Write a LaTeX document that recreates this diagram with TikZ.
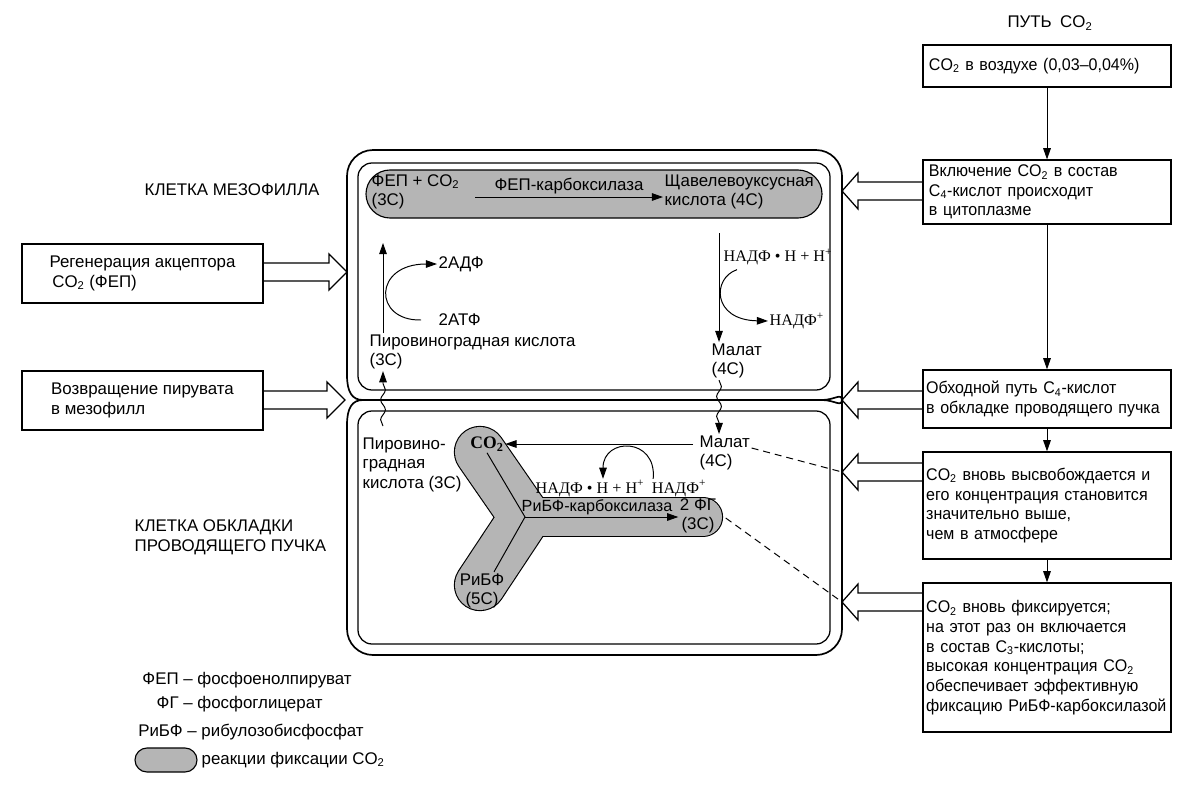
\documentclass[tikz,border=0pt]{standalone}
\usepackage{fontspec}
\setmainfont{Liberation Sans}
\newfontfamily\nadpfont{Liberation Serif}
\newfontfamily\boxfont[FakeStretch=0.95]{Liberation Sans}
\usetikzlibrary{arrows.meta, positioning, calc, decorations.pathmorphing}
\definecolor{fixgray}{HTML}{B5B5B5}
\newcommand{\cotwo}{CO\textsubscript{2}}
\newcommand{\openarrow}[3]{%
  \draw[wallarrow] ($(#1 |- #2)+(0,-9)$) -- ($(#2)+(#3,-9)$) --
    ($(#2)+(#3,-18)$) -- (#2) -- ($(#2)+(#3,18)$) -- ($(#2)+(#3,9)$) --
    ($(#1 |- #2)+(0,9)$);}

\begin{document}
\begin{tikzpicture}[x=0.025cm, y=-0.025cm,
      >={Triangle[length=2.8mm, width=1.9mm]},
      every node/.style={font=\fontsize{12}{14}\selectfont},
      pathbox/.style={draw, line width=0.9pt, text width=6.04cm,
                      inner xsep=0.08cm, align=left,
                      font=\boxfont\fontsize{12}{14}\selectfont},
      sidebox/.style={draw, line width=0.9pt, minimum width=6.025cm,
                      minimum height=1.475cm, align=left},
      lbl/.style={inner sep=1pt, align=left},
      nadp/.style={inner sep=1pt, font=\nadpfont\fontsize{11.5}{13}\selectfont},
      flow/.style={->, line width=0.7pt},
      wavy/.style={->, line width=0.7pt, decorate,
                   decoration={snake, amplitude=0.06cm, segment length=0.5cm,
                               post length=2.5mm}},
      wall/.style={line width=1.2pt},
      membrane/.style={line width=0.9pt, rounded corners=0.35cm},
      wallarrow/.style={line width=0.9pt, line join=miter},
      fixreact/.style={draw, line width=0.8pt, fill=fixgray},
      armedge/.style={line width=#1, line cap=round, line join=round},
      hint/.style={line width=0.7pt, dash pattern=on 5pt off 3.5pt}]
    \useasboundingbox (0,0) rectangle (1200,788);

    % path of CO2 (right column)
    \node[anchor=base] (title) at (1050,28) {ПУТЬ\enspace\cotwo};
    \node[pathbox, minimum height=1.05cm] (air) at (1047,66)
      {\,\cotwo{} в воздухе (0,03–0,04\%)};
    \node[pathbox, minimum height=1.45cm] (incl) at (1047,192)
      {\,Включение \cotwo{} в состав\\\,C\textsubscript{4}-кислот происходит\\\,в цитоплазме};
    \node[pathbox, minimum height=1.45cm] (bypass) at (1047,399)
      {Обходной путь C\textsubscript{4}-кислот\\в обкладке проводящего пучка};
    \node[pathbox, minimum height=2.675cm] (release) at (1047,505.5)
      {\cotwo{} вновь высвобождается и\\его концентрация становится\\значительно выше,\\чем в атмосфере};
    \node[pathbox, minimum height=3.725cm] (refix) at (1047,657.5)
      {\cotwo{} вновь фиксируется;\\на этот раз он включается\\в состав C\textsubscript{3}-кислоты;\\высокая концентрация \cotwo\\обеспечивает эффективную\\\mbox{фиксацию РиБФ-карбоксилазой}};
    \draw[flow] (air) -- (incl);
    \draw[flow] (incl) -- (bypass);
    \draw[flow] (bypass) -- (release);
    \draw[flow] (release) -- (refix);

    % left boxes
    \node[sidebox] (regen) at (142.5,273.5)
      {Регенерация акцептора\\\,\cotwo{} (ФЕП)};
    \node[sidebox] (backpyr) at (142.5,400.5)
      {Возвращение пирувата\\в мезофилл};

    % cell walls and membranes
    \draw[wall] (363,400) .. controls (352,400) and (347,392) .. (347,375)
      [rounded corners=0.65cm] -- (347,150) -- (842,150) -- (842,375)
      [sharp corners] .. controls (842,392) and (835,400) .. (822,400) -- cycle;
    \draw[wall] (363,400) .. controls (352,400) and (347,408) .. (347,425)
      [rounded corners=0.65cm] -- (347,655) -- (842,655) -- (842,425)
      [sharp corners] .. controls (842,408) and (835,400) .. (822,400);
    \draw[membrane] (358,163) rectangle (830,390);
    \draw[membrane] (358,411) rectangle (830,644);

    \node[lbl] (mesoLbl) at (232,190) {КЛЕТКА МЕЗОФИЛЛА};
    \node[lbl, anchor=west] (sheathLbl) at (133,537)
      {КЛЕТКА ОБКЛАДКИ\\ПРОВОДЯЩЕГО ПУЧКА};

    % hollow arrows to the cells
    \coordinate (tipRegen) at (347,272);
    \coordinate (tipBack) at (345,400);
    \coordinate (tipIncl) at (842,191);
    \coordinate (tipBypass) at (842,400);
    \coordinate (tipRelease) at (842,472);
    \coordinate (tipRefix) at (842,602);
    \openarrow{regen.east}{tipRegen}{-18}
    \openarrow{backpyr.east}{tipBack}{-18}
    \openarrow{incl.west}{tipIncl}{16}
    \openarrow{bypass.west}{tipBypass}{16}
    \openarrow{release.west}{tipRelease}{16}
    \openarrow{refix.west}{tipRefix}{16}

    % mesophyll cell
    \draw[fixreact, rounded corners=0.6cm] (366,170) rectangle (822,218);
    \node[lbl, anchor=west] (pep) at (370,192) {ФЕП + \cotwo\\(3C)};
    \node[lbl, anchor=west] (oaa) at (663,192) {Щавелевоуксусная\\кислота (4C)};
    \draw[flow] ($(pep.east)+(14,5)$) --
      node[lbl, above=1pt] (pepc) {ФЕП-карбоксилаза} ($(oaa.west)+(0,5)$);

    \node[lbl, anchor=north west] (pyrM) at (368,333)
      {Пировиноградная кислота\\(3C)};
    \coordinate (pepUp) at (383,243);
    \draw[flow] (pyrM.north -| pepUp) -- (pepUp);
    \node[lbl, anchor=west] (adp) at (437,264) {2АДФ};
    \node[lbl, anchor=west] (atp) at (437,320) {2АТФ};
    \draw[flow] ($(atp.west)+(-16,0)$) .. controls (373,321) and (373,264) .. (adp.west);

    \coordinate (malStart) at (719,233);
    \node[lbl, anchor=north west] (malM) at (710,342) {Малат\\(4C)};
    \draw[flow] (malStart) -- (malStart |- malM.north);
    \node[nadp, anchor=west] (nadphM) at (722,257) {НАДФ • Н + Н\textsuperscript{+}};
    \node[nadp, anchor=west] (nadpM) at (768,321) {НАДФ\textsuperscript{+}};
    \draw[flow] ($(nadphM.south west)+(15,3)$) .. controls (712,278) and (712,320) .. (nadpM.west);

    % bundle sheath cell
    \coordinate (yjunc) at (525,517);
    \coordinate (ytop) at (480,452);
    \coordinate (ybot) at (480,585);
    \coordinate (yright) at (703,517);
    \draw[armedge=37.2pt] (ytop) -- (yjunc) -- (ybot);
    \draw[armedge=28.6pt] (yjunc) -- (yright);
    \draw[armedge=35.6pt, fixgray] (ytop) -- (yjunc) -- (ybot);
    \draw[armedge=27pt, fixgray] (yjunc) -- (yright);

    \node[lbl, font=\nadpfont\bfseries\fontsize{12.5}{14}\selectfont] (co2) at (487,444)
      {CO\textsubscript{2}};
    \node[lbl, align=center] (rubp) at (482,591) {РиБФ\\(5C)};
    \node[lbl, align=center] (pga) at (698,516) {2 ФГ\\(3C)};
    \draw[line width=0.7pt] (co2.south) -- (yjunc) -- ($(rubp.north)+(12,0)$);
    \draw[flow] (yjunc) -- node[lbl, above=0pt, pos=0.47, font=\fontsize{11.5}{14}\selectfont] (rbc)
      {РиБФ-карбоксилаза} (pga.west |- yjunc);

    \node[lbl, anchor=north west] (pyrB) at (361,436)
      {Пировино-\\градная\\кислота (3C)};
    \draw[wavy] ($(pyrB.north -| pepUp)+(0,-10)$) -- (pyrM.south -| pepUp);
    \node[lbl, anchor=north west] (malB) at (698,434) {Малат\\(4C)};
    \draw[wavy] (malM.south -| malStart) -- (malB.north -| malStart);
    \draw[flow] ($(malB.west |- co2)+(-5,0)$) -- (co2.east);

    \node[nadp, anchor=base] (nadphB) at (590,493) {НАДФ • Н + Н\textsuperscript{+}};
    \node[nadp, anchor=base] (nadpB) at (679,493) {НАДФ\textsuperscript{+}};
    \draw[flow] ($(nadpB.north west)+(3,0)$) .. controls (657,437) and (603,437) ..
      ($(nadphB.north)+(13,0)$);

    \draw[hint] ($(malB.north east)+(0,14)$) -- (tipRelease);
    \draw[hint] ($(pga.east)+(8,2)$) -- (tipRefix);

    % legend
    \node[lbl, anchor=base west] (lgPep) at (127,684)
      {\makebox[1.25cm][r]{ФЕП} – фосфоенолпируват};
    \node[lbl, anchor=base west] (lgPga) at (127,708)
      {\makebox[1.25cm][r]{ФГ} – фосфоглицерат};
    \node[lbl, anchor=base west] (lgRubp) at (131,736)
      {\makebox[1.25cm][r]{РиБФ} – рибулозобисфосфат};
    \draw[fixreact, rounded corners=0.3cm] (135,748) rectangle (197,772);
    \node[lbl, anchor=west] (lgFix) at (200,760) {реакции фиксации \cotwo};
\end{tikzpicture}
\end{document}
